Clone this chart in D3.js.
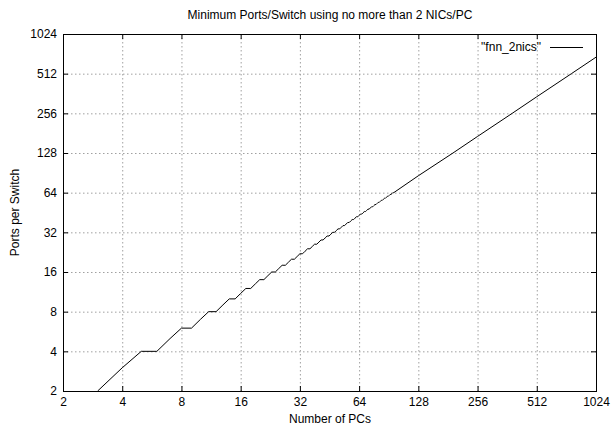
<!DOCTYPE html>
<html>
<head>
<meta charset="utf-8">
<script src="https://cdn.jsdelivr.net/npm/d3@7/dist/d3.min.js"></script>
<style>
  body { margin: 0; background: #fff; }
  svg { display: block; font-family: "Liberation Sans", Arial, Helvetica, sans-serif; }
  .grid line { stroke: #a0a0a0; stroke-width: 1; stroke-dasharray: 1.5,2.5; }
  .tick-label { font-size: 12px; fill: #000; }
</style>
</head>
<body>
<svg width="616" height="427"></svg>
<script>
// number of PCs (x) and minimum ports per switch (y)
var pcs = [3, 4, 5, 6, 7, 8, 9, 10, 11, 12, 13, 14, 15, 16, 17, 18, 19, 20, 21, 22,
  23, 24, 25, 26, 27, 28, 29, 30, 31, 32, 33, 34, 35, 36, 37, 38, 39, 40, 41, 42,
  43, 44, 45, 46, 47, 48, 49, 50, 51, 52, 53, 54, 55, 56, 57, 58, 59, 60, 61, 62,
  63, 64, 65, 66, 67, 68, 69, 70, 71, 72, 73, 74, 75, 76, 77, 78, 79, 80, 81, 82,
  83, 84, 85, 86, 87, 88, 89, 90, 91, 92, 93, 94, 95, 96,
  128, 192, 256, 384, 512, 768, 1024];
var ports = [2, 3, 4, 4, 5, 6, 6, 7, 8, 8, 9, 10, 10, 11, 12, 12, 13, 14, 14, 15,
  16, 16, 17, 18, 18, 19, 20, 20, 21, 22, 22, 23, 24, 24, 25, 26, 26, 27, 28, 28,
  29, 30, 30, 31, 32, 32, 33, 34, 34, 35, 36, 36, 37, 38, 38, 39, 40, 40, 41, 42,
  42, 43, 44, 44, 45, 46, 46, 47, 48, 48, 49, 50, 50, 51, 52, 52, 53, 54, 54, 55,
  56, 56, 57, 58, 58, 59, 60, 60, 61, 62, 62, 63, 64, 64,
  86, 128, 171, 256, 342, 512, 683];

var xTicks = [2, 4, 8, 16, 32, 64, 128, 256, 512, 1024];
var yTicks = [2, 4, 8, 16, 32, 64, 128, 256, 512, 1024];

var svg = d3.select("svg"),
    margin = {top: 34, right: 20, bottom: 36, left: 63},
    width = +svg.attr("width") - margin.left - margin.right,
    height = +svg.attr("height") - margin.top - margin.bottom;

var x = d3.scaleLog().base(2).domain([2, 1024]).range([0, width]);
var y = d3.scaleLog().base(2).domain([2, 1024]).range([height, 0]);

var g = svg.append("g")
    .attr("transform", "translate(" + margin.left + "," + margin.top + ")");

// grid
var grid = g.append("g").attr("class", "grid");
grid.selectAll(".gx")
  .data(xTicks.slice(1, -1))
  .enter().append("line")
    .attr("x1", function(d) { return x(d) + 0.5; })
    .attr("x2", function(d) { return x(d) + 0.5; })
    .attr("y1", 0).attr("y2", height);
grid.selectAll(".gy")
  .data(yTicks.slice(1, -1))
  .enter().append("line")
    .attr("y1", function(d) { return y(d) + 0.5; })
    .attr("y2", function(d) { return y(d) + 0.5; })
    .attr("x1", 0).attr("x2", width);

// axes, ticks pointing inward, mirrored
var tl = 5;
g.append("g")
    .attr("transform", "translate(0," + height + ")")
    .call(d3.axisBottom(x).tickValues(xTicks).tickSize(-tl).tickPadding(6)
      .tickFormat(d3.format("d")));
g.append("g")
    .call(d3.axisTop(x).tickValues(xTicks).tickSize(-tl).tickFormat(""));
g.append("g")
    .call(d3.axisLeft(y).tickValues(yTicks).tickSize(-tl).tickPadding(6)
      .tickFormat(d3.format("d")));
g.append("g")
    .attr("transform", "translate(" + width + ",0)")
    .call(d3.axisRight(y).tickValues(yTicks).tickSize(-tl).tickFormat(""));

g.selectAll(".domain").remove();
g.selectAll(".tick line").attr("stroke", "#000");
g.selectAll(".tick text").attr("class", "tick-label").attr("font-size", null)
  .attr("font-family", null);

g.append("rect")
    .attr("x", 0.5).attr("y", 0.5)
    .attr("width", width).attr("height", height)
    .attr("fill", "none").attr("stroke", "#000").attr("stroke-width", 1);

// data line
var data = pcs.map(function(d, i) { return {n: d, p: ports[i]}; });
var line = d3.line()
    .x(function(d) { return x(d.n); })
    .y(function(d) { return y(d.p); });

g.append("path")
    .datum(data)
    .attr("fill", "none")
    .attr("stroke", "#000")
    .attr("stroke-width", 1)
    .attr("d", line);

// legend
g.append("text")
    .attr("x", width - 55).attr("y", 17)
    .attr("text-anchor", "end")
    .attr("font-size", 12)
    .text("\"fnn_2nics\"");
g.append("line")
    .attr("x1", width - 46).attr("x2", width - 13)
    .attr("y1", 13.5).attr("y2", 13.5)
    .attr("stroke", "#000");

// title and axis labels
svg.append("text")
    .attr("x", 330).attr("y", 19)
    .attr("text-anchor", "middle")
    .attr("font-size", 12)
    .text("Minimum Ports/Switch using no more than 2 NICs/PC");
svg.append("text")
    .attr("x", 330).attr("y", 423)
    .attr("text-anchor", "middle")
    .attr("font-size", 12)
    .text("Number of PCs");
svg.append("text")
    .attr("transform", "translate(19," + (margin.top + height / 2) + ") rotate(-90)")
    .attr("text-anchor", "middle")
    .attr("font-size", 12)
    .text("Ports per Switch");
</script>
</body>
</html>
